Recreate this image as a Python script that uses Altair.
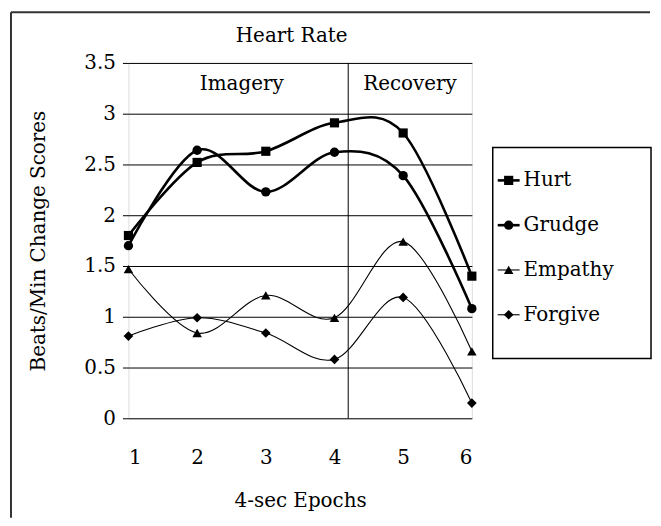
import altair as alt
import pandas as pd

# ---- data ----
epochs = [1, 2, 3, 4, 5, 6]
hurt = [1.80, 2.52, 2.63, 2.91, 2.81, 1.40]
grudge = [1.70, 2.64, 2.23, 2.62, 2.39, 1.08]
empathy = [1.47, 0.84, 1.21, 0.99, 1.74, 0.66]
forgive = [0.81, 0.99, 0.84, 0.58, 1.19, 0.15]
series = ["Hurt", "Grudge", "Empathy", "Forgive"]
thick_series = ["Hurt", "Grudge"]
thin_series = ["Empathy", "Forgive"]
y_ticks = [0, 0.5, 1, 1.5, 2, 2.5, 3, 3.5]
phase_labels = ["Imagery", "Recovery"]
phase_x = [2.65, 5.1]
phase_y = [3.29, 3.29]
divider_x = 4.2
chart_title = "Heart Rate"

# ---- styles ----
shapes = ["square", "circle", "triangle-up", "diamond"]
sizes = [85, 95, 85, 85]
THICK = 2.6
THIN = 1.1
FONT = "DejaVu Serif"
FS = 20

rows = []
for name, vals in zip(series, [hurt, grudge, empathy, forgive]):
    for e, v in zip(epochs, vals):
        rows.append({"series": name, "epoch": e, "value": v})
df = pd.DataFrame(rows)
phase_df = pd.DataFrame({"label": phase_labels, "x": phase_x, "y": phase_y})

x_enc = alt.X(
    "epoch:Q",
    scale=alt.Scale(domain=[1, 6], nice=False, zero=False),
    axis=alt.Axis(
        values=epochs, format="d", title="4-sec Epochs", grid=False, ticks=False, domain=False,
        labelFont=FONT, labelFontSize=FS, labelColor="black", labelPadding=29,
        titleFont=FONT, titleFontSize=FS, titleFontWeight="normal", titleColor="black",
        titlePadding=24,
    ),
)
y_enc = alt.Y(
    "value:Q",
    scale=alt.Scale(domain=[0, 3.5], nice=False),
    axis=alt.Axis(
        values=y_ticks, format="~g", title="Beats/Min Change Scores",
        grid=True, gridColor="black", gridWidth=1, gridOpacity=1,
        domain=False, ticks=True, tickSize=6, tickColor="black",
        labelFont=FONT, labelFontSize=FS, labelColor="black", labelPadding=7,
        titleFont=FONT, titleFontSize=FS, titleFontWeight="normal", titleColor="black",
        titlePadding=36,
    ),
)
shape_enc = alt.Shape("series:N", scale=alt.Scale(domain=series, range=shapes), legend=None)
size_enc = alt.Size("series:N", scale=alt.Scale(domain=series, range=sizes), legend=None)

base = alt.Chart(df)
lines_thick = base.transform_filter(
    alt.FieldOneOfPredicate(field="series", oneOf=thick_series)
).mark_line(interpolate="cardinal", color="black", strokeWidth=THICK).encode(
    x=x_enc, y=y_enc, detail="series:N"
)
lines_thin = base.transform_filter(
    alt.FieldOneOfPredicate(field="series", oneOf=thin_series)
).mark_line(interpolate="cardinal", color="black", strokeWidth=THIN).encode(
    x="epoch:Q", y="value:Q", detail="series:N"
)
points = base.mark_point(filled=True, color="black", opacity=1).encode(
    x="epoch:Q", y="value:Q", shape=shape_enc, size=size_enc
)
divider = alt.Chart(alt.Data(values=[{"d": divider_x}])).mark_rule(
    color="black", strokeWidth=1
).encode(x="d:Q")
phase_text = alt.Chart(phase_df).mark_text(
    font=FONT, fontSize=FS, color="black", baseline="middle"
).encode(x="x:Q", y="y:Q", text="label:N")

title_text = alt.Chart(alt.Data(values=[{"t": chart_title}])).mark_text(
    font=FONT, fontSize=FS, color="black", baseline="alphabetic", align="center"
).encode(x=alt.value(164), y=alt.value(-21), text="t:N")

# outer frame edges (decorative)
frame_left = alt.Chart(alt.Data(values=[{}])).mark_rule(color="#333", strokeWidth=2).encode(
    x=alt.value(-118), y=alt.value(-51), y2=alt.value(457)
)
frame_top = alt.Chart(alt.Data(values=[{}])).mark_rule(color="#333", strokeWidth=2).encode(
    x=alt.value(-118), x2=alt.value(524), y=alt.value(-51)
)

main = alt.layer(
    frame_left, frame_top, divider, lines_thick, lines_thin, points, phase_text, title_text
).properties(width=345, height=357)

# ---- legend panel ----
leg_df = pd.DataFrame({"series": series})
leg_y = alt.Y("series:N", scale=alt.Scale(type="point", domain=series, range=[118, 253], padding=0), axis=None)
leg_base = alt.Chart(leg_df)
leg_box = alt.Chart(alt.Data(values=[{}])).mark_rect(
    fillOpacity=0, stroke="black", strokeWidth=1.5
).encode(x=alt.value(0), x2=alt.value(159), y=alt.value(85), y2=alt.value(297))
leg_lines_thick = leg_base.transform_filter(
    alt.FieldOneOfPredicate(field="series", oneOf=thick_series)
).mark_rule(color="black", strokeWidth=THICK).encode(x=alt.value(5), x2=alt.value(27), y=leg_y)
leg_lines_thin = leg_base.transform_filter(
    alt.FieldOneOfPredicate(field="series", oneOf=thin_series)
).mark_rule(color="black", strokeWidth=THIN).encode(x=alt.value(5), x2=alt.value(27), y=leg_y)
leg_pts = leg_base.mark_point(filled=True, color="black", opacity=1).encode(
    x=alt.value(16), y=leg_y, shape=shape_enc, size=size_enc
)
leg_txt = leg_base.mark_text(font=FONT, fontSize=FS, color="black", align="left", baseline="middle").encode(
    x=alt.value(31), y=leg_y, text="series:N"
)
legend = alt.layer(leg_box, leg_lines_thick, leg_lines_thin, leg_pts, leg_txt).properties(
    width=159, height=357, view=alt.ViewBackground(stroke="transparent")
)

chart = alt.hconcat(main, legend, spacing=21, bounds="flush").properties(
    padding={"left": 1, "top": 1, "right": 0, "bottom": 0}
).configure_view(stroke="black", strokeWidth=1).configure(background="white")

chart.save("out.html", embed_options={"renderer": "svg", "actions": False})
